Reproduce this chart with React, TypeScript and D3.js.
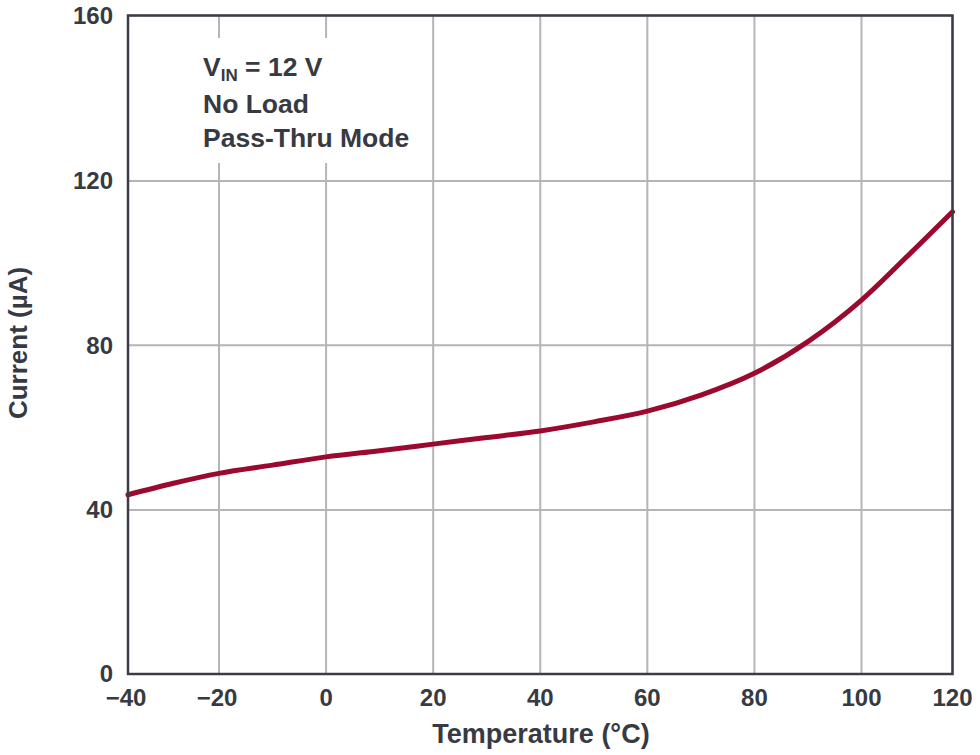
import React from "react";
import * as d3 from "d3";

const temps = [-40, -30, -20, -10, 0, 10, 20, 30, 40, 50, 60, 70, 80, 90, 100, 110, 120];
const currents = [43.7, 46.5, 48.9, 50.9, 52.9, 54.4, 56.0, 57.6, 59.2, 61.4, 64.0, 67.9, 73.2, 80.9, 91.0, 101.6, 112.5];
const xTicks = [-40, -20, 0, 20, 40, 60, 80, 100, 120];
const yTicks = [0, 40, 80, 120, 160];

const W = 980, H = 755;
const FONT = "'Liberation Sans', Arial, Helvetica, sans-serif";
const TXT = "#373a42";

export default function App() {
  // the reference's gridlines are unevenly spaced at the edges; follow them with a piecewise scale
  const x = d3.scaleLinear().domain([-40, -20, 100, 120]).range([128, 219, 861.5, 952.5]);
  const y = d3.scaleLinear().domain([0, 40, 80, 120, 160]).range([674, 510, 345.3, 181, 15.5]);
  const L = x(-40), R = x(120), T = y(160), B = y(0);
  const data = temps.map((t, i) => [t, currents[i]] as [number, number]);
  const line = d3.line<[number, number]>().x(d => x(d[0])).y(d => y(d[1])).curve(d3.curveMonotoneX);
  const fmt = (v: number) => (v < 0 ? "\u2212" + Math.abs(v) : String(v));
  return (
    <svg width={W} height={H} style={{ position: "absolute", left: 0, top: 0, background: "#fff" }}>
      <rect x={0} y={0} width={W} height={H} fill="#fff" />
      {xTicks.map(t => (
        <line key={"gx" + t} x1={x(t)} x2={x(t)} y1={T} y2={B} stroke="#b4b5b8" strokeWidth={2} />
      ))}
      {yTicks.map(t => (
        <line key={"gy" + t} x1={L} x2={R} y1={y(t)} y2={y(t)} stroke="#b4b5b8" strokeWidth={2} />
      ))}
      <rect x={192} y={38} width={228} height={125} fill="#fff" />
      <path d={line(data) || ""} fill="none" stroke="#9b0a2e" strokeWidth={5} strokeLinecap="round" />
      <rect x={L} y={T} width={R - L} height={B - T} fill="none" stroke="#3a3d45" strokeWidth={2.5} />
      {yTicks.map(t => (
        <text key={"ty" + t} x={113} y={y(t)} dy="0.35em" textAnchor="end" fontFamily={FONT} fontWeight="bold" fontSize={24} fill={TXT}>
          {fmt(t)}
        </text>
      ))}
      {xTicks.map(t => (
        <text key={"tx" + t} x={x(t) + (t < 0 ? -2 : 0)} y={705.5} textAnchor="middle" fontFamily={FONT} fontWeight="bold" fontSize={24} fill={TXT}>
          {fmt(t)}
        </text>
      ))}
      <text x={541} y={742.5} textAnchor="middle" fontFamily={FONT} fontWeight="bold" fontSize={27} fill={TXT}>
        Temperature (°C)
      </text>
      <text transform={`translate(27,${343}) rotate(-90)`} textAnchor="middle" fontFamily={FONT} fontWeight="bold" fontSize={26} fill={TXT}>
        Current (µA)
      </text>
      <g fontFamily={FONT} fontWeight="bold" fontSize={26.5} fill={TXT}>
        <text x={203} y={76}>
          V<tspan fontSize={17} dy={5}>IN</tspan><tspan dy={-5}> = 12 V</tspan>
        </text>
        <text x={203} y={113}>No Load</text>
        <text x={203} y={147}>Pass-Thru Mode</text>
      </g>
    </svg>
  );
}
